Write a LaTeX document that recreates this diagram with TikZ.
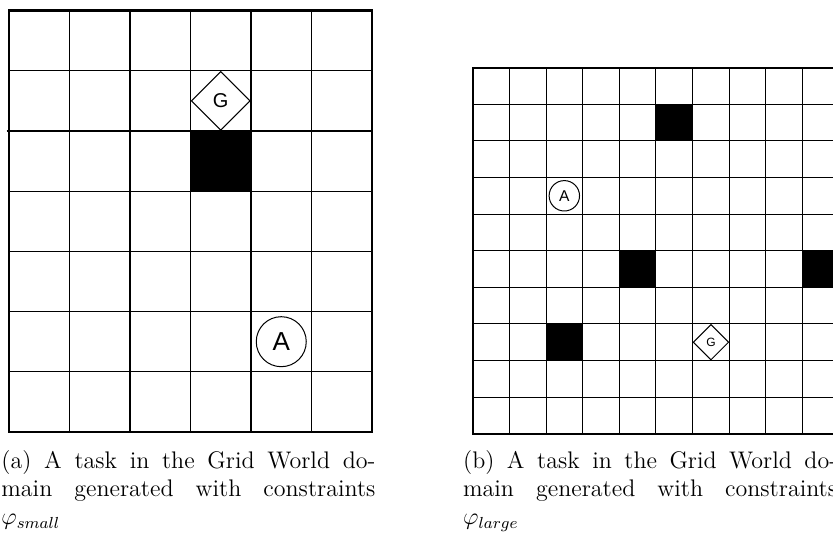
\documentclass[tikz,border=0pt]{standalone}
\usepackage{amsmath}
\usepackage{fontspec}
\newfontfamily\markfont{Liberation Sans}
\usetikzlibrary{shapes.geometric}
\tikzset{
  cell line/.style={line width=.6pt},
  grid frame/.style={line width=1.2pt},
  wall cell/.style={fill=black},
  goal mark/.style={diamond,aspect=1,draw,fill=white,inner sep=0pt,line width=.5pt},
  agent mark/.style={circle,draw,fill=white,inner sep=0pt,line width=.5pt},
  sub caption/.style={anchor=north west,inner sep=0pt,text width=187pt,
    align=justify,font=\fontsize{12}{14}\selectfont}
}

\begin{document}
\begin{tikzpicture}[x=.5pt,y=.5pt]
  \path[use as bounding box] (0,0) rectangle (833,535);
  \clip (0,0) rectangle (833,535);

  % (a) small world, 6 x 7 cells
  \begin{scope}[shift={(4.5pt,51.5pt)},x=30.25pt,y=30.1pt]
    \fill[wall cell] (3,4) rectangle (4,5);
    \foreach \i in {1,...,5} \draw[cell line] (\i,0) -- (\i,7);
    \foreach \j in {1,...,6} \draw[cell line] (0,\j) -- (6,\j);
    \draw[cell line] (-0.04,5) -- (0,5);
    \draw[grid frame] (0,0) rectangle (6,7);
    \node[goal mark,minimum size=29.5pt,font=\markfont\fontsize{10}{12}\selectfont]
      (goalsmall) at (3.5,5.5) {G};
    \node[agent mark,minimum size=25pt,font=\markfont\fontsize{13}{15}\selectfont]
      (agentsmall) at (4.5,1.5) {A};
  \end{scope}

  % (b) large world, 10 x 10 cells
  \begin{scope}[shift={(236.35pt,50.65pt)},x=18.325pt,y=18.3pt]
    \foreach \c/\r in {5/8,4/4,9/4,2/2}
      \fill[wall cell] (\c,\r) rectangle ++(1,1);
    \foreach \i in {1,...,9} \draw[cell line,line width=.5pt] (\i,0) -- (\i,10);
    \foreach \j in {1,...,9} \draw[cell line,line width=.5pt] (0,\j) -- (10,\j);
    \draw[grid frame,line width=.9pt] (0,0) rectangle (10,10);
    \node[goal mark,minimum size=17.8pt,font=\markfont\fontsize{6}{7}\selectfont]
      (goallarge) at (6.5,2.5) {G};
    \node[agent mark,minimum size=15.2pt,font=\markfont\fontsize{7.8}{9}\selectfont]
      (agentlarge) at (2.5,6.5) {A};
  \end{scope}

  \node[sub caption] (capsmall) at (1,85)
    {(a) A task in the Grid World do-\linebreak main generated with constraints\linebreak $\varphi_{small}$};
  \node[sub caption] (caplarge) at (462.7,85)
    {(b) A task in the Grid World do-\linebreak main generated with constraints\linebreak $\varphi_{large}$};
\end{tikzpicture}
\end{document}
